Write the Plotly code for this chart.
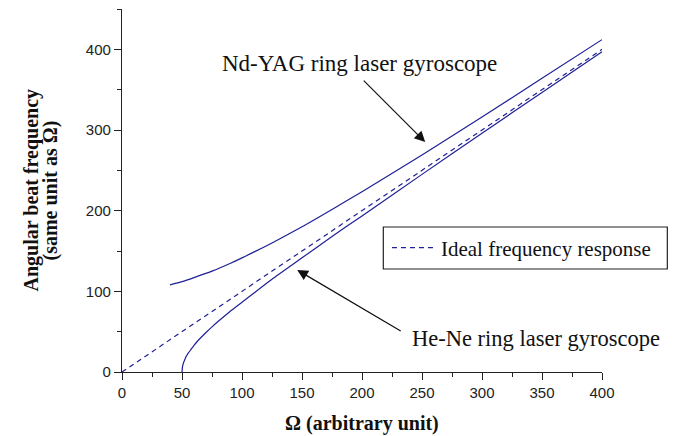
import plotly.graph_objects as go

# Rotation rate Ω (arbitrary unit) and the beat frequency of each gyroscope
ideal_x = [0, 400]
ideal_y = [0, 400]

hene_x = [50, 50.3, 50.7, 51, 51.5, 52, 53, 54, 55, 57.5, 60, 62.5, 65, 70,
          75, 80, 90, 100, 110, 125, 150, 175, 200, 250, 300, 350, 400]
hene_y = [0, 5.5, 8.5, 10, 12.5, 14, 18, 20.5, 23, 28, 33, 37.5, 41.5, 49,
          56, 62.5, 75, 86.5, 98, 115, 141.5, 168, 193.5, 245, 296, 346.5, 397]

ndyag_x = [40, 50, 60, 75, 90, 100, 125, 150, 175, 200, 250, 300, 350, 400]
ndyag_y = [108, 112, 117, 125, 134.5, 141.5, 160, 180, 201.5, 223.5, 269, 316, 364, 412]

x_ticks = [0, 50, 100, 150, 200, 250, 300, 350, 400]
y_ticks = [0, 100, 200, 300, 400]

LINE = "#1f1f96"
SERIF = "Liberation Serif, Times New Roman, serif"
SANS = "Liberation Sans, Arial, sans-serif"

fig = go.Figure()
fig.add_trace(go.Scatter(x=ideal_x, y=ideal_y, mode="lines",
                         name="Ideal frequency response",
                         line=dict(color=LINE, width=1.2, dash="5px,4px")))
fig.add_trace(go.Scatter(x=hene_x, y=hene_y, mode="lines", showlegend=False,
                         line=dict(color=LINE, width=1.2, shape="spline", smoothing=0.6)))
fig.add_trace(go.Scatter(x=ndyag_x, y=ndyag_y, mode="lines", showlegend=False,
                         line=dict(color=LINE, width=1.2, shape="spline", smoothing=0.6)))

axis_common = dict(showline=True, linecolor="#222", linewidth=1.3, ticks="outside",
                   ticklen=7, tickwidth=1.3, tickcolor="#222", showgrid=False,
                   zeroline=False, automargin=False,
                   tickfont=dict(family=SANS, size=15, color="#222"))

fig.update_xaxes(range=[0, 400], tickvals=x_ticks,
                 minor=dict(dtick=25, ticks="outside", ticklen=4, tickwidth=1.3, tickcolor="#222"),
                 **axis_common)
fig.update_yaxes(range=[0, 450], tickvals=y_ticks,
                 minor=dict(dtick=50, ticks="outside", ticklen=4, tickwidth=1.3, tickcolor="#222"),
                 **axis_common)

# x-axis title
fig.add_annotation(text="<b>Ω (arbitrary unit)</b>", xref="paper", yref="paper",
                   x=0.5, y=0, xanchor="center", yanchor="middle", yshift=-51,
                   showarrow=False, font=dict(family=SERIF, size=20, color="#111"))

# two-line y-axis title, set tighter than the default line height
fig.add_annotation(text="<b>Angular beat frequency</b>", xref="paper", yref="paper",
                   x=0, y=0.5, xanchor="center", yanchor="middle", xshift=-91,
                   textangle=-90, showarrow=False,
                   font=dict(family=SERIF, size=20, color="#111"))
fig.add_annotation(text="<b>(same unit as Ω)</b>", xref="paper", yref="paper",
                   x=0, y=0.5, xanchor="center", yanchor="middle", xshift=-72,
                   textangle=-90, showarrow=False,
                   font=dict(family=SERIF, size=20, color="#111"))

# curve labels
fig.add_annotation(text="Nd-YAG ring laser gyroscope", x=198, y=382, showarrow=False,
                   font=dict(family=SERIF, size=23, color="#111"))
fig.add_annotation(text="He-Ne ring laser gyroscope", x=345, y=41, showarrow=False,
                   font=dict(family=SERIF, size=22.5, color="#111"))

# arrows pointing at the curves
fig.add_annotation(text="", x=252.7, y=285, ax=-63, ay=-63, showarrow=True,
                   arrowhead=2, arrowsize=1.8, arrowwidth=1.2, arrowcolor="#111")
fig.add_annotation(text="", x=146, y=126.5, ax=105, ay=62, showarrow=True,
                   arrowhead=2, arrowsize=1.8, arrowwidth=1.2, arrowcolor="#111")

# frame around the legend
fig.add_shape(type="rect", xref="paper", yref="paper",
              x0=0.5444, x1=1.1361, y0=0.2837, y1=0.3994,
              line=dict(color="#222", width=1.2), fillcolor="rgba(0,0,0,0)")

fig.update_layout(
    width=681, height=436,
    margin=dict(l=122, r=79, t=9, b=64),
    paper_bgcolor="white", plot_bgcolor="white",
    legend=dict(x=0.552, y=0.3415, xanchor="left", yanchor="middle",
                itemwidth=44, borderwidth=0, bgcolor="rgba(0,0,0,0)",
                font=dict(family=SERIF, size=21, color="#111")),
)

fig.write_html("out.html")
